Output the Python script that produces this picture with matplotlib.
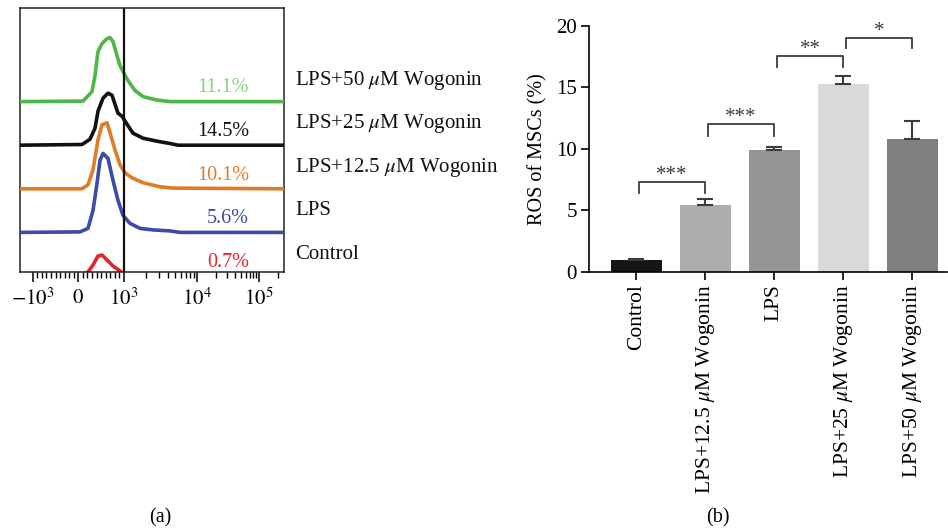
import numpy as np
import matplotlib
matplotlib.use("Agg")
import matplotlib.pyplot as plt

plt.rcParams['font.family'] = ['Liberation Serif', 'DejaVu Serif']
plt.rcParams['mathtext.fontset'] = 'stix'

# ---- panel (a): flow histograms (x in display channels, height in px-like units)
hist_names = ["Control", "LPS", r"LPS+12.5 $\mu$M Wogonin",
              r"LPS+25 $\mu$M Wogonin", r"LPS+50 $\mu$M Wogonin"]
hist_pct = ["0.7%", "5.6%", "10.1%", "14.5%", "11.1%"]
hist_line_col = ["#e0262b", "#3a4ba8", "#e07b28", "#111111", "#4cb848"]
hist_text_col = ["#e0262b", "#3a4ba8", "#e07b28", "#111111", "#86d882"]

red_x = [0, 60, 68, 73, 78, 82, 87, 93, 100, 106, 115, 264]
red_h = [0, 0, 4, 11, 20, 21, 16, 10, 5, 1, 0, 0]
blue_x = [0, 60, 68, 73, 77, 80, 83, 88, 93, 98, 103, 110, 120, 133, 150, 160, 264]
blue_h = [0, 0.5, 4, 22, 49, 72, 79, 74, 52, 32, 17, 9, 4, 2.5, 1.5, 0, 0]
orange_x = [0, 62, 68, 73, 78, 82, 87, 90, 95, 100, 105, 112, 123, 140, 153, 264]
orange_h = [0, 0, 4, 19, 49, 64, 66, 56, 39, 24, 16, 11, 6, 2, 0.7, 0]
black_x = [0, 62, 70, 75, 78, 83, 88, 92, 95, 98, 102, 107, 113, 123, 137, 150, 158, 264]
black_h = [0, 0.7, 6, 17, 34, 47, 52, 50, 41, 32, 29, 21, 12, 7, 4, 1.7, 0, 0]
green_x = [0, 63, 72, 75, 78, 82, 87, 90, 93, 97, 100, 103, 108, 115, 123, 137, 150, 264]
green_h = [0, 0.5, 10, 26, 50, 58, 63, 64, 60, 46, 36, 30, 21, 11, 5, 1.5, 0, 0]
hist_x = [red_x, blue_x, orange_x, black_x, green_x]
hist_h = [red_h, blue_h, orange_h, black_h, green_h]

# fluorescence values used for the axis ticks
major_vals = [-1000, 0, 1000, 1e4, 1e5]
major_labels = [r"$-10^{3}$", r"$0$", r"$10^{3}$", r"$10^{4}$", r"$10^{5}$"]

# ---- panel (b): bar chart
groups = ["Control", r"LPS+12.5 $\mu$M Wogonin", "LPS",
          r"LPS+25 $\mu$M Wogonin", r"LPS+50 $\mu$M Wogonin"]
ros = [0.95, 5.43, 9.9, 15.28, 10.8]
ros_err = [0.05, 0.49, 0.27, 0.66, 1.5]
bar_colors = ["#151515", "#adadad", "#959595", "#d9d9d9", "#808080"]
sig_pairs = [(0, 1), (1, 2), (2, 3), (3, 4)]
sig_top = [7.28, 12.0, 17.57, 19.06]
sig_leg = [6.38, 11.05, 16.7, 18.2]
sig_text = ["***", "***", "**", "*"]


def to_ch(v):
    # piecewise biexponential-like display mapping
    if abs(v) <= 1000:
        return 58.3 + 45.5 * v / 1000
    if v <= 1e4:
        return 103.8 + 73.5 * np.log10(v / 1000)
    return 177.3 + 62 * np.log10(v / 1e4)


def main():
    fig = plt.figure(figsize=(9.48, 5.31), dpi=100)

    # ---------------- (a)
    ax = fig.add_axes([20 / 948, 1 - 272 / 531, 264 / 948, 264 / 531])
    step = 43.6
    for i in range(5):
        base = -4 + i * step
        ax.plot(hist_x[i], np.array(hist_h[i]) + base, color=hist_line_col[i],
                lw=2.6, zorder=2 + i, solid_joinstyle='round')
        ax.text(229, base + 13.7, hist_pct[i], color=hist_text_col[i],
                ha='right', va='center', fontsize=14.5)
        ax.text(275, base + 21.5, hist_names[i], color='#111111',
                ha='left', va='center', fontsize=15, clip_on=False)
    ax.axvline(103.5, color='#111111', lw=1.6, zorder=10)
    ax.set_xlim(0, 264)
    ax.set_ylim(0, 264)
    ax.set_yticks([])
    ax.set_xticks([to_ch(v) for v in major_vals])
    ax.set_xticklabels(major_labels, fontsize=15)
    minor = [to_ch(v) for v in range(-900, 1000, 100) if v != 0]
    minor += [to_ch(k * 1000) for k in range(2, 10)]
    minor += [to_ch(k * 10000) for k in range(2, 10)]
    minor += [to_ch(2e5)]
    ax.set_xticks(minor, minor=True)
    ax.tick_params(axis='x', which='major', length=7, width=1.1, pad=5)
    ax.tick_params(axis='x', which='minor', length=4, width=1.0)
    for s in ax.spines.values():
        s.set_linewidth(1.1)
        s.set_color('#222222')

    # ---------------- (b)
    bx = fig.add_axes([589.3 / 948, 1 - 271.7 / 531, 357.4 / 948, 245.7 / 531])
    pos = np.arange(len(groups))
    bx.bar(pos, ros, width=0.735, color=bar_colors, zorder=2)
    bx.errorbar(pos, ros, yerr=[np.zeros(len(ros)), ros_err], fmt='none',
                ecolor='#3c3c3c', elinewidth=1.5, capsize=5.5, capthick=1.5,
                zorder=3)
    for (a, b), top, leg, t in zip(sig_pairs, sig_top, sig_leg, sig_text):
        xa, xb = a + 0.04, b
        bx.plot([xa, xa, xb, xb], [leg, top, top, leg], color='#3c3c3c', lw=1.3)
        bx.text((xa + xb) / 2, top + 0.15, t, ha='center', va='baseline',
                fontsize=15, color='#3c3c3c')
    bx.set_xlim(-0.68, 4.5)
    bx.set_ylim(0, 20)
    bx.set_yticks([0, 5, 10, 15, 20])
    bx.set_xticks(pos)
    bx.set_xticklabels(groups, rotation=90, fontsize=15.5)
    bx.tick_params(axis='y', labelsize=15, length=6, width=1.2, pad=3)
    bx.tick_params(axis='x', length=6, width=1.2, pad=3)
    bx.set_ylabel("ROS of MSCs (%)", fontsize=14.5, labelpad=6)
    bx.spines['top'].set_visible(False)
    bx.spines['right'].set_visible(False)
    bx.spines['left'].set_linewidth(1.2)
    bx.spines['bottom'].set_linewidth(1.2)

    fig.text(160 / 948, 1 - 518 / 531, "(a)", ha='center', va='center', fontsize=14.5)
    fig.text(718 / 948, 1 - 518 / 531, "(b)", ha='center', va='center', fontsize=14.5)

    fig.savefig('out.png', dpi=100)


if __name__ == '__main__':
    main()
